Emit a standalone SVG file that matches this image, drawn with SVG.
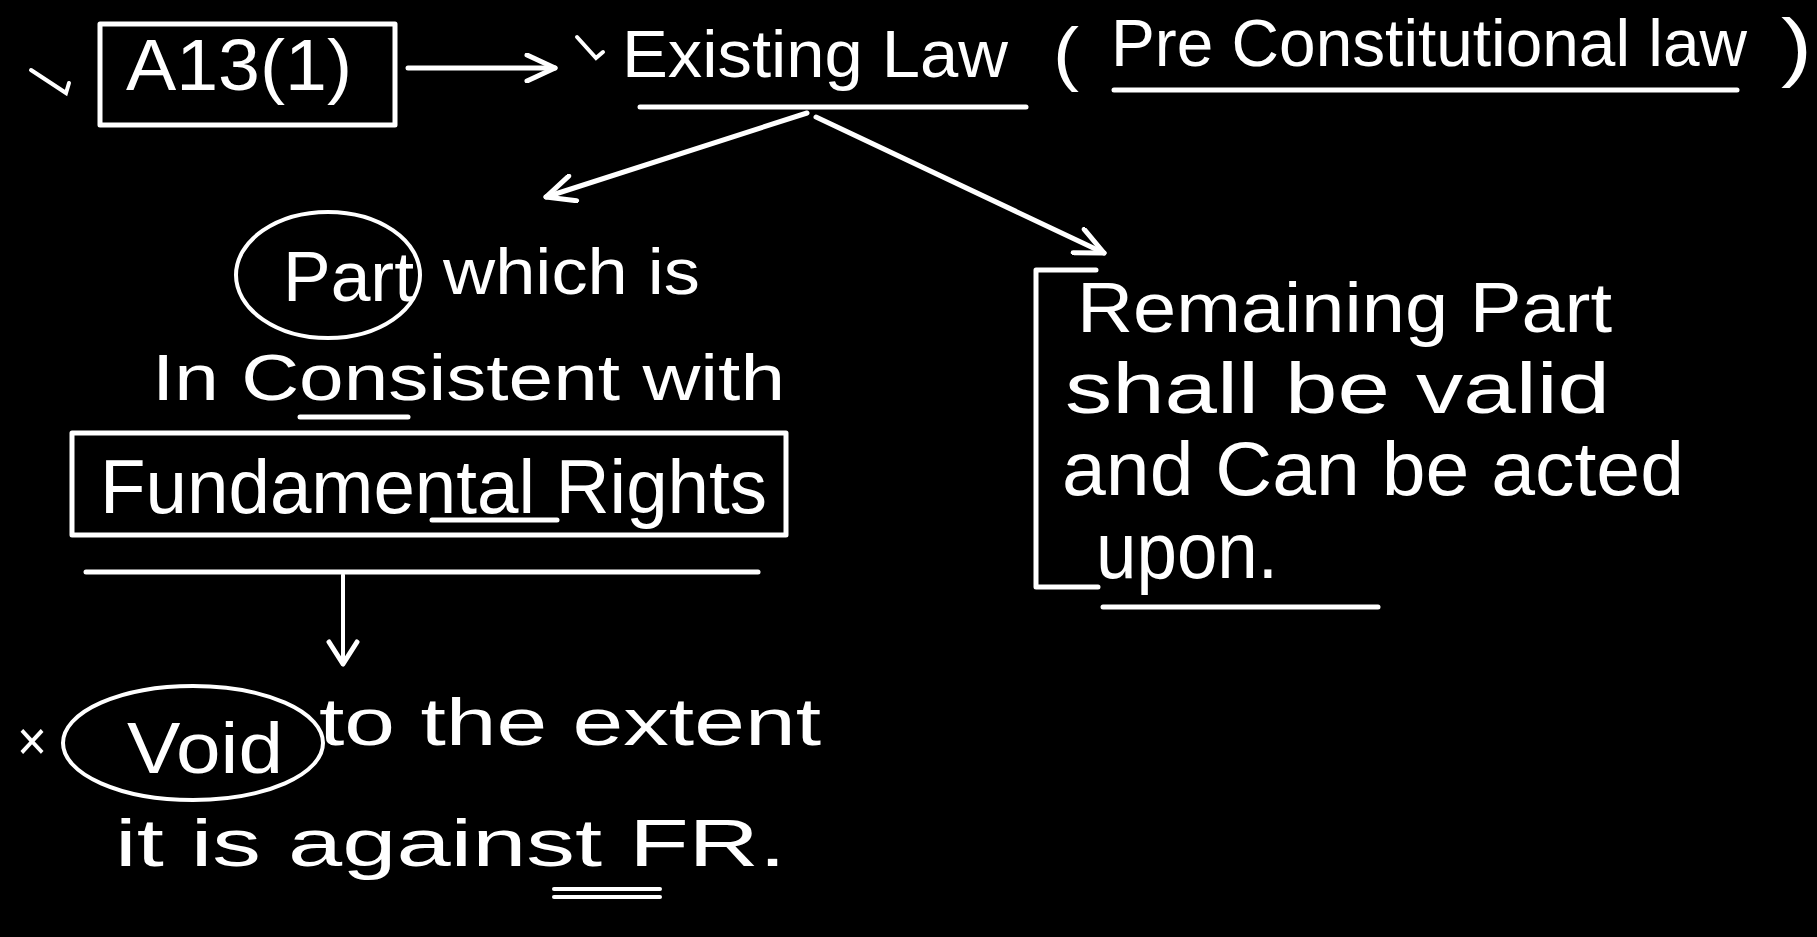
<svg xmlns="http://www.w3.org/2000/svg" width="1817" height="937" viewBox="0 0 1817 937">
  <style>
    .ink { fill: none; stroke: #fff; stroke-width: 5; stroke-linecap: round; stroke-linejoin: round; }
    .thin { fill: none; stroke: #fff; stroke-width: 4; stroke-linecap: round; }
    .hand { fill: #fff; font-family: "Liberation Sans", "DejaVu Sans", sans-serif; }
  </style>
  <defs>
    <marker id="head" viewBox="0 0 34 30" refX="31" refY="15" markerWidth="34" markerHeight="30" markerUnits="userSpaceOnUse" orient="auto">
      <path d="M3,2 L31,15 L3,28" fill="none" stroke="#fff" stroke-width="5" stroke-linecap="round" stroke-linejoin="round"/>
    </marker>
    <marker id="headSmall" viewBox="0 0 28 34" refX="25" refY="17" markerWidth="28" markerHeight="34" markerUnits="userSpaceOnUse" orient="auto">
      <path d="M3,3 L25,17 L3,31" fill="none" stroke="#fff" stroke-width="5" stroke-linecap="round" stroke-linejoin="round"/>
    </marker>
  </defs>

  <rect x="0" y="0" width="1817" height="937" fill="#000"/>

  <!-- check marks and cross -->
  <g id="marks">
    <path class="thin" d="M31,70 L66,93 L69,83"/>
    <path class="thin" d="M577,37 L596,58 L603,52"/>
    <text class="hand" x="17" y="760" font-size="56" textLength="30" lengthAdjust="spacingAndGlyphs">×</text>
  </g>

  <!-- A13(1) -->
  <g id="node-article">
    <rect class="ink" x="100" y="24" width="295" height="101"/>
    <text class="hand" x="126" y="90" font-size="72" textLength="226" lengthAdjust="spacingAndGlyphs">A13(1)</text>
  </g>

  <!-- Existing Law (Pre Constitutional law) -->
  <g id="node-existing-law">
    <text class="hand" x="622" y="77" font-size="66" textLength="386" lengthAdjust="spacingAndGlyphs">Existing Law</text>
    <line class="ink" x1="640" y1="107" x2="1026" y2="107"/>
    <text class="hand" x="1053" y="77" font-size="70" textLength="26" lengthAdjust="spacingAndGlyphs">(</text>
    <text class="hand" x="1111" y="66" font-size="66" textLength="636" lengthAdjust="spacingAndGlyphs">Pre Constitutional law</text>
    <line class="ink" x1="1114" y1="90" x2="1737" y2="90"/>
    <text class="hand" x="1781" y="72" font-size="76" textLength="31" lengthAdjust="spacingAndGlyphs">)</text>
  </g>

  <!-- Part which is inconsistent with Fundamental Rights -->
  <g id="node-inconsistent-part">
    <ellipse class="thin" cx="328" cy="275" rx="92" ry="63"/>
    <text class="hand" x="283" y="301" font-size="70" textLength="131" lengthAdjust="spacingAndGlyphs">Part</text>
    <text class="hand" x="443" y="294" font-size="64" textLength="257" lengthAdjust="spacingAndGlyphs">which is</text>
    <text class="hand" x="152" y="400" font-size="64" textLength="633" lengthAdjust="spacingAndGlyphs">In Consistent with</text>
    <line class="ink" x1="300" y1="417" x2="408" y2="417"/>
    <rect class="ink" x="72" y="433" width="714" height="102"/>
    <text class="hand" x="100" y="513" font-size="76" textLength="667" lengthAdjust="spacingAndGlyphs">Fundamental Rights</text>
    <line class="ink" x1="432" y1="520" x2="557" y2="520"/>
  </g>

  <!-- Remaining part -->
  <g id="node-remaining-part">
    <path class="ink" d="M1096,270 H1036 V587 H1098"/>
    <text class="hand" x="1077" y="332" font-size="70" textLength="535" lengthAdjust="spacingAndGlyphs">Remaining Part</text>
    <text class="hand" x="1065" y="413" font-size="72" textLength="545" lengthAdjust="spacingAndGlyphs">shall be valid</text>
    <text class="hand" x="1062" y="495" font-size="76" textLength="622" lengthAdjust="spacingAndGlyphs">and Can be acted</text>
    <text class="hand" x="1096" y="578" font-size="80" textLength="182" lengthAdjust="spacingAndGlyphs">upon.</text>
    <line class="ink" x1="1103" y1="607" x2="1378" y2="607"/>
  </g>

  <!-- Void to the extent -->
  <g id="node-void">
    <ellipse class="thin" cx="193" cy="743" rx="130" ry="57"/>
    <text class="hand" x="127" y="773" font-size="72" textLength="156" lengthAdjust="spacingAndGlyphs">Void</text>
    <text class="hand" x="319" y="745" font-size="66" textLength="502" lengthAdjust="spacingAndGlyphs">to the extent</text>
    <text class="hand" x="115" y="866" font-size="66" textLength="671" lengthAdjust="spacingAndGlyphs">it is against FR.</text>
    <line class="thin" x1="554" y1="889" x2="660" y2="889" stroke-width="3"/>
    <line class="thin" x1="554" y1="897" x2="660" y2="897" stroke-width="3"/>
  </g>

  <!-- connectors -->
  <g id="connectors">
    <line class="ink" x1="408" y1="68" x2="555" y2="68" marker-end="url(#head)"/>
    <line class="ink" x1="807" y1="113" x2="546" y2="197" marker-end="url(#head)"/>
    <line class="ink" x1="816" y1="117" x2="1104" y2="253" marker-end="url(#head)"/>
    <line class="ink" x1="86" y1="572" x2="758" y2="572"/>
    <line class="thin" x1="343" y1="575" x2="343" y2="664" marker-end="url(#headSmall)"/>
  </g>
</svg>
